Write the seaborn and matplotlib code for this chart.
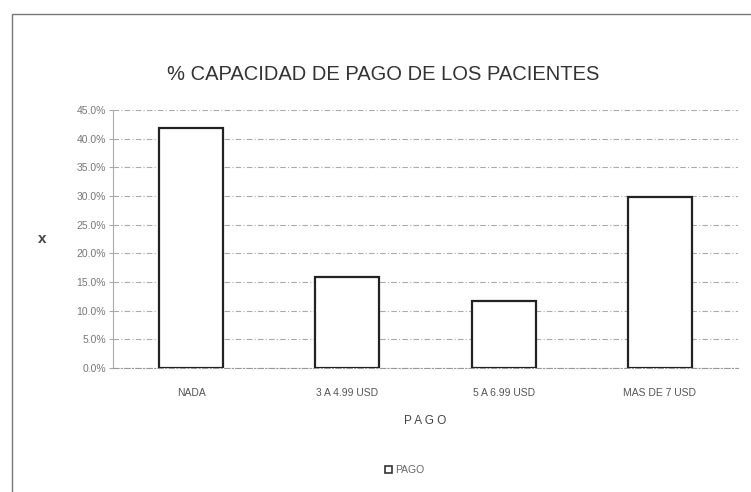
import numpy as np
import pandas as pd
import matplotlib
matplotlib.use('Agg')
import matplotlib.pyplot as plt
import seaborn as sns
from matplotlib.patches import Patch, Rectangle
from matplotlib.ticker import FuncFormatter, MultipleLocator

categories = ['NADA', '3 A 4.99 USD', '5 A 6.99 USD', 'MAS DE 7 USD']
pago_pct = [41.8, 15.9, 11.7, 29.8]

df = pd.DataFrame({'pago': categories, 'pct': pago_pct})

sns.set_style('white')
plt.rcParams['font.family'] = ['Liberation Sans', 'DejaVu Sans']

fig = plt.figure(figsize=(7.51, 4.92), dpi=100)
ax = fig.add_axes([113 / 751, 1 - 368 / 492, 625 / 751, 258 / 492])

sns.barplot(data=df, x='pago', y='pct', color='white', edgecolor='#222222',
            linewidth=1.6, width=0.41, ax=ax, zorder=3, saturation=1)

ax.set_ylim(0, 45)
ax.yaxis.set_major_locator(MultipleLocator(5))
ax.yaxis.set_major_formatter(FuncFormatter(lambda v, p: f'{v:.1f}%'))
ax.grid(axis='y', color='#aaaaaa', linestyle=(0, (5, 2, 1, 2)), linewidth=0.8, zorder=0)
ax.grid(axis='x', visible=False)

for s in ['top', 'right']:
    ax.spines[s].set_visible(False)
ax.spines['left'].set_color('#aaaaaa')
ax.spines['left'].set_linewidth(0.8)
ax.spines['bottom'].set_color('#999999')
ax.spines['bottom'].set_linestyle((0, (5, 2, 1, 2)))
ax.spines['bottom'].set_linewidth(0.8)

ax.tick_params(axis='y', left=True, length=3, color='#aaaaaa', labelsize=7.5,
               labelcolor='#777777', pad=2)
ax.tick_params(axis='x', bottom=False, labelsize=7.5, labelcolor='#555555', pad=11)

ax.set_xlabel('P A G O', fontsize=8.5, color='#444444', labelpad=12)
ax.set_ylabel('x', fontsize=11, fontweight='bold', color='#444444', rotation=0,
              va='center', ha='center')
ax.yaxis.set_label_coords(-0.114, 0.5)

fig.text(383 / 751, 1 - 75 / 492, '% CAPACIDAD DE PAGO DE LOS PACIENTES',
         ha='center', va='center', fontsize=14.5, color='#333333')

fig.legend(handles=[Patch(facecolor='white', edgecolor='#333333', linewidth=1.2,
                          label='PAGO')],
           loc='center', bbox_to_anchor=(405 / 751, 1 - 470 / 492), frameon=False,
           fontsize=7.5, handlelength=0.7, handleheight=0.7, handletextpad=0.3,
           labelcolor='#666666')

# outer frame of the chart
fig.patches.append(Rectangle((12 / 751, -0.05), 1.0, 1 - 14 / 492 + 0.05,
                             transform=fig.transFigure, fill=False,
                             edgecolor='#777777', linewidth=1.0))

fig.savefig('out.png', dpi=100)
